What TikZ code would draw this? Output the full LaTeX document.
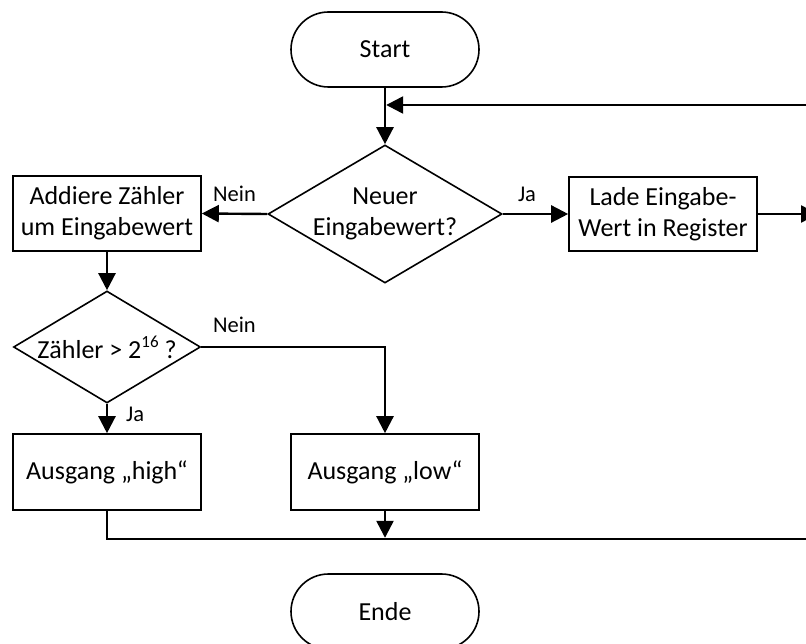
\documentclass[tikz,border=0pt]{standalone}
\usepackage{fontspec}
\setmainfont{Carlito}
\usetikzlibrary{arrows.meta,shapes.geometric}
\newcommand{\supnum}[1]{\raisebox{11pt}{\fontsize{17}{17}\selectfont #1}}
\begin{document}
\begin{tikzpicture}[x=1pt,y=-1pt,
  every node/.style={font=\fontsize{26}{31}\selectfont},
  shapeline/.style={draw, line width=1.6pt},
  terminal/.style={shapeline, rectangle, rounded corners=37.5pt,
    minimum width=188pt, minimum height=75pt, inner sep=0pt},
  process/.style={shapeline, rectangle, minimum width=188pt,
    minimum height=75pt, inner sep=0pt, align=center},
  decision/.style={shapeline, diamond, inner sep=0pt},
  wire/.style={line width=2.4pt},
  flow/.style={wire, -{Triangle[length=17pt,width=17pt]}},
  edgelabel/.style={font=\fontsize{22.5}{27}\selectfont, inner sep=0pt}
]
\useasboundingbox (0,0) rectangle (806,644);
\clip (0,0) rectangle (806,644);

% nodes
\node[terminal] (start) at (385,49.5) {Start};
\node[decision, minimum width=234pt, minimum height=138pt] (d1) at (385,214) {};
\node[align=center] (d1t) at (d1.center) {Neuer\\Eingabewert?};
\node[process] (add) at (107,213.5) {Addiere Zähler\\um Eingabewert};
\node[process, minimum height=74pt] (load) at (663,214) {Lade Eingabe-\\Wert in Register};
\node[decision, minimum width=187pt, minimum height=112pt] (d2) at (107,347) {};
\node (d2t) at (d2.center) {Zähler > 2\supnum{16} ?};
\node[process, minimum height=76pt] (high) at (107,472) {Ausgang „high“};
\node[process, minimum height=76pt] (low) at (385,472) {Ausgang „low“};
\node[terminal] (ende) at (385,611.5) {Ende};

% helper points of the return loop
\coordinate (j1) at (385,105);
\coordinate (rb) at (818,539);

% connectors
\draw[flow] (start.south) -- (d1.north);
\draw[flow] (d1.west) -- node[edgelabel, midway, above=11pt] {Nein} (add.east);
\draw[flow] (d1.east) -- node[edgelabel, pos=0.37, above=11pt] {Ja} (load.east -| load.west);
\draw[flow] (add.south) -- (d2.north);
\draw[flow] (d2.east) -| node[edgelabel, pos=0.09, above=13pt] {Nein} (low.north);
\draw[flow] (d2.south) -- node[edgelabel, pos=0.35, right=18pt] {Ja} (high.north);
\draw[flow] (load.east) -- (load.east -| rb);
\draw[flow, shorten >=1.2pt] (low.south) -- (low.south |- rb);
\draw[flow, shorten >=1.2pt] (high.south) |- (rb) |- (j1);
\end{tikzpicture}
\end{document}
